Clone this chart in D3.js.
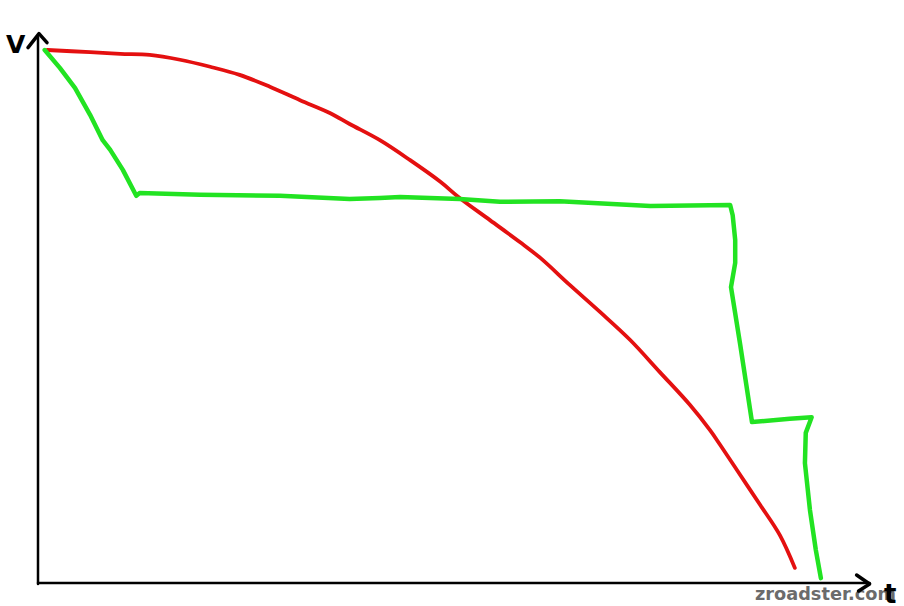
<!DOCTYPE html>
<html>
<head>
<meta charset="utf-8">
<script src="https://cdn.jsdelivr.net/npm/d3@7"></script>
<style>
  html, body { margin: 0; padding: 0; background: #fff; }
  svg { display: block; }
</style>
</head>
<body>
<svg id="chart" width="904" height="606"></svg>
<script>
// ---- data (t and v in arbitrary units 0..100) ----
const redT = [1.1, 6.2, 9.8, 13.3, 16.9, 20.5, 24.0, 27.6, 31.2, 34.8, 37.1, 40.7, 44.3, 47.9, 50.2, 53.8, 57.4, 59.8, 63.3, 66.9, 70.5, 74.0, 77.6, 80.0, 81.2, 83.6, 86.0, 88.3, 90.1];
const redV = [98.7, 98.3, 98.0, 97.8, 96.9, 95.6, 94.1, 91.9, 89.4, 87.0, 85.0, 82.0, 78.3, 74.3, 71.3, 67.2, 63.1, 60.2, 55.2, 50.2, 45.0, 39.1, 33.0, 28.3, 25.6, 20.0, 14.4, 8.9, 2.8];

const greenT = [0.8, 2.6, 4.4, 6.2, 7.7, 8.6, 10.1, 11.7, 12.1, 19.3, 28.8, 37.1, 40.7, 43.1, 50.2, 55.0, 62.1, 72.9, 82.4, 82.7, 83.0, 83.0, 82.5, 83.6, 85.0, 89.5, 92.1, 91.4, 91.3, 91.9, 92.6, 93.2];
const greenV = [98.7, 95.4, 91.7, 86.7, 82.0, 80.2, 76.5, 71.7, 72.2, 71.9, 71.7, 71.1, 71.3, 71.5, 71.1, 70.6, 70.7, 69.8, 70.0, 68.1, 63.5, 59.3, 54.8, 44.1, 29.8, 30.4, 30.7, 27.8, 22.2, 13.5, 6.1, 0.9];

const axisLabelY = "V";
const axisLabelX = "t";
const watermark = "zroadster.com";

// ---- layout ----
const svg = d3.select("#chart");
const x = d3.scaleLinear().domain([0, 100]).range([38, 878]);
const y = d3.scaleLinear().domain([0, 100]).range([583, 43]);

const toPts = (ts, vs) => ts.map((t, i) => [t, vs[i]]);

const line = d3.line()
  .x(d => x(d[0]))
  .y(d => y(d[1]));

// axes
const axes = svg.append("g").attr("stroke", "#000").attr("fill", "none")
  .attr("stroke-linecap", "round").attr("stroke-linejoin", "round");
axes.append("line")
  .attr("x1", x(0)).attr("x2", x(0))
  .attr("y1", y(0) + 1).attr("y2", y(101))
  .attr("stroke-width", 2.5);
axes.append("line")
  .attr("x1", x(0)).attr("x2", x(99))
  .attr("y1", y(0)).attr("y2", y(0))
  .attr("stroke-width", 2.5);

// series
svg.append("path")
  .datum(toPts(redT, redV))
  .attr("d", line.curve(d3.curveCatmullRom))
  .attr("fill", "none")
  .attr("stroke", "#e41010")
  .attr("stroke-width", 3.8)
  .attr("stroke-linecap", "round")
  .attr("stroke-linejoin", "round");

svg.append("path")
  .datum(toPts(greenT, greenV))
  .attr("d", line.curve(d3.curveLinear))
  .attr("fill", "none")
  .attr("stroke", "#22e322")
  .attr("stroke-width", 4.5)
  .attr("stroke-linecap", "round")
  .attr("stroke-linejoin", "round");

// watermark
svg.append("text")
  .attr("x", 755).attr("y", 600)
  .attr("font-family", "DejaVu Sans, Verdana, sans-serif")
  .attr("font-weight", "bold")
  .attr("font-size", 18)
  .attr("textLength", 141)
  .attr("lengthAdjust", "spacingAndGlyphs")
  .attr("fill", "#6b6b6b")
  .text(watermark);

// arrowheads (hand-drawn style)
const heads = svg.append("g").attr("stroke", "#000").attr("fill", "none")
  .attr("stroke-width", 3.5).attr("stroke-linecap", "round").attr("stroke-linejoin", "round");
heads.append("path")
  .attr("d", `M${x(0) - 10},${y(101) + 10} L${x(0) + 1},${y(101) - 4} L${x(0) + 9},${y(101) + 5}`);
heads.append("path")
  .attr("d", `M${x(99) - 13},${y(0) - 8} L${x(99)},${y(0) + 1} L${x(99) - 11},${y(0) + 8}`);

// axis labels
svg.append("text")
  .attr("x", 6).attr("y", 53)
  .attr("font-family", "DejaVu Sans, sans-serif")
  .attr("font-weight", "bold")
  .attr("font-size", 25)
  .attr("fill", "#000")
  .text(axisLabelY);

svg.append("text")
  .attr("x", 884).attr("y", 603)
  .attr("font-family", "DejaVu Sans, sans-serif")
  .attr("font-weight", "bold")
  .attr("font-size", 26)
  .attr("fill", "#000")
  .text(axisLabelX);
</script>
</body>
</html>
